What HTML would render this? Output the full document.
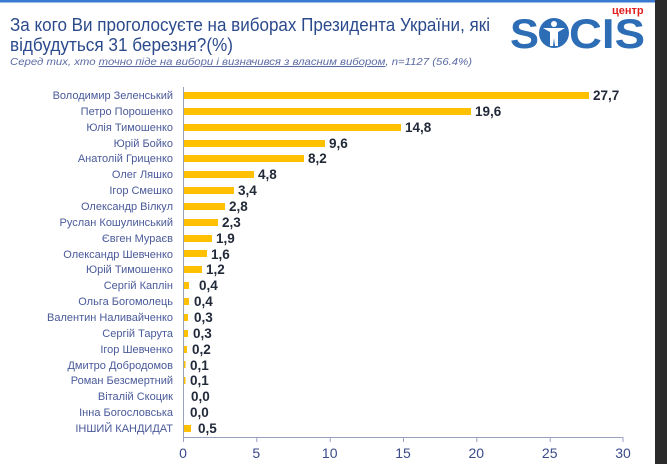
<!DOCTYPE html>
<html><head><meta charset="utf-8"><style>
body{margin:0;width:667px;height:464px;overflow:hidden;background:#fff;font-family:"Liberation Sans",sans-serif;}
</style></head><body>
<svg width="667" height="464" xmlns="http://www.w3.org/2000/svg" font-family="Liberation Sans, sans-serif">
<rect x="0" y="0" width="667" height="464" fill="#fff"/>
<rect x="655" y="0" width="12" height="464" fill="#2b2b2b"/>
<rect x="0" y="0" width="655" height="2.5" fill="#3a7ad0"/>
<text x="10" y="31" font-size="18" fill="#2b4a8c" textLength="480" lengthAdjust="spacingAndGlyphs">За кого Ви проголосуєте на виборах Президента України, які</text>
<text x="10" y="51" font-size="18" fill="#2b4a8c" textLength="223" lengthAdjust="spacingAndGlyphs">відбудуться 31 березня?(%)</text>
<text x="10" y="65" font-size="10.5" font-style="italic" fill="#5b6aa3" textLength="462" lengthAdjust="spacingAndGlyphs">Серед тих, хто <tspan text-decoration="underline">точно піде на вибори і визначився з власним вибором</tspan>, n=1127 (56.4%)</text>
<text x="612" y="14" font-size="11" font-weight="bold" fill="#e02020">центр</text>
<text x="510" y="48" font-size="42" font-weight="bold" fill="#2d6db5" textLength="29" lengthAdjust="spacingAndGlyphs">S</text>
<circle cx="554" cy="33" r="15" fill="#2d6db5"/>
<circle cx="554" cy="24" r="3" fill="#fff"/>
<path d="M543 28 L565 28 L558 32 L558 46 L555 46 L554 38 L553 46 L550 46 L550 32 Z" fill="#fff"/>
<text x="569" y="48" font-size="42" font-weight="bold" fill="#2d6db5" textLength="76" lengthAdjust="spacingAndGlyphs">CIS</text>
<g stroke="#9aa0c0" stroke-width="1">
<line x1="183.5" y1="87" x2="183.5" y2="437"/>
<line x1="183" y1="437.5" x2="623" y2="437.5"/>
<line x1="183.5" y1="437" x2="183.5" y2="442"/><line x1="256.8" y1="437" x2="256.8" y2="442"/><line x1="330.2" y1="437" x2="330.2" y2="442"/><line x1="403.5" y1="437" x2="403.5" y2="442"/><line x1="476.8" y1="437" x2="476.8" y2="442"/><line x1="550.2" y1="437" x2="550.2" y2="442"/><line x1="623" y1="437" x2="623" y2="442"/>
</g>
<g font-size="14" fill="#3a4a8a" text-anchor="middle">
<text x="183" y="458">0</text><text x="256.3" y="458">5</text><text x="329.7" y="458">10</text><text x="403" y="458">15</text><text x="476.3" y="458">20</text><text x="549.7" y="458">25</text><text x="623" y="458">30</text>
</g>
<g font-size="11" fill="#4a5a9a" text-anchor="end">
<text x="173" y="99">Володимир Зеленський</text>
<text x="173" y="115">Петро Порошенко</text>
<text x="173" y="131">Юлія Тимошенко</text>
<text x="173" y="147">Юрій Бойко</text>
<text x="173" y="162">Анатолій Гриценко</text>
<text x="173" y="178">Олег Ляшко</text>
<text x="173" y="194">Ігор Смешко</text>
<text x="173" y="210">Олександр Вілкул</text>
<text x="173" y="226">Руслан Кошулинський</text>
<text x="173" y="242">Євген Мураєв</text>
<text x="173" y="258">Олександр Шевченко</text>
<text x="173" y="273">Юрій Тимошенко</text>
<text x="173" y="289">Сергій Каплін</text>
<text x="173" y="305">Ольга Богомолець</text>
<text x="173" y="321">Валентин Наливайченко</text>
<text x="173" y="337">Сергій Тарута</text>
<text x="173" y="353">Ігор Шевченко</text>
<text x="173" y="369">Дмитро Добродомов</text>
<text x="173" y="384">Роман Безсмертний</text>
<text x="173" y="400">Віталій Скоцик</text>
<text x="173" y="416">Інна Богословська</text>
<text x="173" y="432">ІНШИЙ КАНДИДАТ</text>
</g>
<g fill="#ffc000">
<rect x="184" y="92" width="405" height="7"/>
<rect x="184" y="108" width="287" height="7"/>
<rect x="184" y="124" width="217" height="7"/>
<rect x="184" y="140" width="141" height="7"/>
<rect x="184" y="155" width="120" height="7"/>
<rect x="184" y="171" width="70" height="7"/>
<rect x="184" y="187" width="50" height="7"/>
<rect x="184" y="203" width="41" height="7"/>
<rect x="184" y="219" width="34" height="7"/>
<rect x="184" y="235" width="28" height="7"/>
<rect x="184" y="250" width="23" height="7"/>
<rect x="184" y="266" width="18" height="7"/>
<rect x="184" y="282" width="5" height="7"/>
<rect x="184" y="298" width="5" height="7"/>
<rect x="184" y="314" width="4" height="7"/>
<rect x="184" y="330" width="4" height="7"/>
<rect x="184" y="346" width="3" height="7"/>
<rect x="184" y="361" width="1.5" height="7"/>
<rect x="184" y="377" width="1.5" height="7"/>
<rect x="184" y="425" width="7" height="7"/>
</g>
<g font-size="13.5" font-weight="bold" fill="#222a3a">
<text x="593" y="100">27,7</text>
<text x="475" y="116">19,6</text>
<text x="405" y="132">14,8</text>
<text x="329" y="148">9,6</text>
<text x="308" y="163">8,2</text>
<text x="258" y="179">4,8</text>
<text x="238" y="195">3,4</text>
<text x="229" y="211">2,8</text>
<text x="222" y="227">2,3</text>
<text x="216" y="243">1,9</text>
<text x="211" y="259">1,6</text>
<text x="206" y="274">1,2</text>
<text x="199" y="290">0,4</text>
<text x="194" y="306">0,4</text>
<text x="194" y="322">0,3</text>
<text x="193" y="338">0,3</text>
<text x="192" y="354">0,2</text>
<text x="190" y="370">0,1</text>
<text x="190" y="385">0,1</text>
<text x="191" y="401">0,0</text>
<text x="190" y="417">0,0</text>
<text x="198" y="433">0,5</text>
</g>
</svg>
</body></html>
